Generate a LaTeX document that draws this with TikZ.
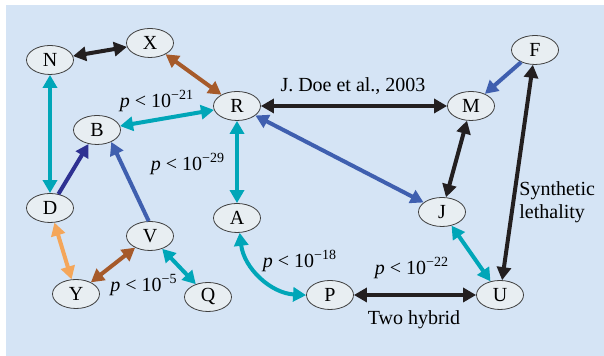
\documentclass[tikz,border=0pt]{standalone}
\usepackage{fontspec}
\setmainfont{LiberationSerif}[Extension=.ttf, UprightFont=*-Regular, ItalicFont=*-Italic, BoldFont=*-Bold, BoldItalicFont=*-BoldItalic]
\usetikzlibrary{shapes.geometric,arrows.meta,positioning}
\definecolor{bgblue}{RGB}{213,228,245}
\definecolor{nodegrey}{RGB}{232,238,242}
\definecolor{linkblack}{RGB}{35,31,32}
\definecolor{linkteal}{RGB}{0,166,184}
\definecolor{linkbrown}{RGB}{166,90,42}
\definecolor{linkblue}{RGB}{63,95,175}
\definecolor{linknavy}{RGB}{46,49,146}
\definecolor{linkorange}{RGB}{244,166,90}
\newcommand{\pless}[1]{\textit{p} < 10\textsuperscript{−#1}}

\begin{document}
\begin{tikzpicture}[
    x=0.5pt, y=0.5pt,
    >={Triangle[length=6.5pt,width=7pt]},
    gene/.style={ellipse, draw=black!75, thin, fill=nodegrey, minimum width=23.5pt, minimum height=14.5pt, inner sep=0pt, font=\rmfamily\fontsize{10}{11.5}\selectfont},
    lbl/.style={inner sep=0pt, font=\rmfamily\fontsize{10}{11.5}\selectfont},
    link/.style={line width=2pt}
]
    \useasboundingbox (0,0) rectangle (604,356);
    \fill[bgblue] (6,0) rectangle (604,351);

    % genes
    \node[gene] (N) at (50,296) {N};
    \node[gene] (X) at (150,313) {X};
    \node[gene] (R) at (237,250) {R};
    \node[gene] (B) at (97,226) {B};
    \node[gene] (F) at (535,306) {F};
    \node[gene] (M) at (471,250) {M};
    \node[gene] (D) at (50,148) {D};
    \node[gene] (V) at (150,120) {V};
    \node[gene] (A) at (237,138) {A};
    \node[gene] (Y) at (76,62) {Y};
    \node[gene] (Q) at (208,59) {Q};
    \node[gene] (J) at (442,144) {J};
    \node[gene] (P) at (330,61) {P};
    \node[gene] (U) at (500,61) {U};

    % labels
    \node[lbl] (pB) at (157,255) {\pless{21}};
    \node[lbl] (pA) at (188,192) {\pless{29}};
    \node[lbl] (doe) at (353,270) {J. Doe et al., 2003};
    \node[lbl] (pY) at (144,71) {\pless{5}};
    \node[lbl] (pP) at (300,95) {\pless{18}};
    \node[lbl] (pU) at (412,88) {\pless{22}};
    \node[lbl] (hybrid) at (414,36) {Two hybrid};
    \node[lbl, anchor=west, align=left] (synth) at (519,154) {Synthetic\\lethality};

    % links
    \draw[link, <->, linkblack] (N) -- (X);
    \draw[link, <->, linkbrown] (X) -- (R);
    \draw[link, <->, linkteal] (R) -- (B);
    \draw[link, <->, linkblack] (R) -- (M);
    \draw[link, <->, linkteal] (R) -- (A);
    \draw[link, <->, linkblue] (R) -- (J);
    \draw[link, ->, linkblue] (F) -- (M);
    \draw[link, <->, linkblack] (M) -- (J);
    \draw[link, <->, linkblack] (F) -- (U);
    \draw[link, <->, linkteal] (J) -- (U);
    \draw[link, <->, linkblack] (P) -- (U);
    \draw[link, <->, linkteal] (A) to[bend right=40] (P);
    \draw[link, <->, linkteal] (N) -- (D);
    \draw[link, ->, linknavy] (D) -- (B);
    \draw[link, ->, linkblue] (V.95) -- (B.-40);
    \draw[link, <->, linkorange] (D) -- (Y);
    \draw[link, <->, linkbrown] (Y) -- (V);
    \draw[link, <->, linkteal] (V) -- (Q);
\end{tikzpicture}
\end{document}
